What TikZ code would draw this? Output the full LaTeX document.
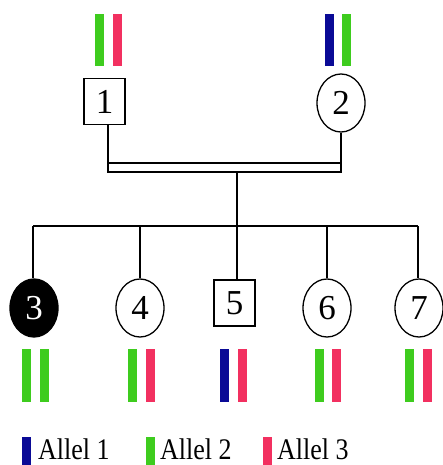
\documentclass[tikz,border=0pt]{standalone}
\usepackage{fontspec}
\setmainfont{Liberation Serif}
\usetikzlibrary{shapes.geometric}
\definecolor{alA}{RGB}{10,10,150}
\definecolor{alB}{RGB}{62,204,30}
\definecolor{alC}{RGB}{242,48,96}
\begin{document}
\begin{tikzpicture}[x=1pt,y=-1pt,
  male/.style={draw,line width=1.3pt,rectangle,minimum width=41pt,minimum height=46pt,inner sep=0pt,font=\fontsize{35}{35}\selectfont},
  female/.style={draw,line width=1.3pt,ellipse,minimum width=48pt,minimum height=58pt,inner sep=0pt,font=\fontsize{35}{35}\selectfont},
  link/.style={line width=1.2pt},
  legend/.style={anchor=base west,inner sep=0pt,font=\fontsize{26}{26}\selectfont,yscale=1.15}]
\useasboundingbox (0,0) rectangle (443,465);
% parents
\node[male] (n1) at (104.5,101.5) {1};
\node[female] (n2) at (341,103) {2};
% children
\node[female,fill=black,text=white] (n3) at (34,308) {3};
\node[female] (n4) at (140,308) {4};
\node[male] (n5) at (234.5,303) {5};
\node[female] (n6) at (327,308) {6};
\node[female] (n7) at (419,308) {7};
% marriage line
\coordinate (ml) at (108,172);
\coordinate (mr) at (341,172);
\coordinate (ul) at (108,163);
\coordinate (ur) at (341,163);
\draw[link] (n1.south -| ml) -- (ml) -- (mr) -- (n2.south);
\draw[link] (ul) -- (ur);
% descent line
\coordinate (md) at (237,172);
\coordinate (sl) at (33,226);
\coordinate (sr) at (418,226);
\draw[link] (md) -- (n5.north -| md);
\draw[link] (sl) -- (sr);
\draw[link] (sl) -- (n3.north -| sl);
\draw[link] (n4.north |- sl) -- (n4.north);
\draw[link] (n6.north |- sl) -- (n6.north);
\draw[link] (sr) -- (n7.north -| sr);
% genotype bars
\fill[alB] (95,14) rectangle (104,66);
\fill[alC] (113,14) rectangle (122,66);
\fill[alA] (325,14) rectangle (334,66);
\fill[alB] (342,14) rectangle (351,66);
\fill[alB] (22,349) rectangle (31,402);
\fill[alB] (40,349) rectangle (49,402);
\fill[alB] (128,349) rectangle (137,402);
\fill[alC] (146,349) rectangle (155,402);
\fill[alA] (220,349) rectangle (229,402);
\fill[alC] (238,349) rectangle (247,402);
\fill[alB] (315,349) rectangle (324,402);
\fill[alC] (332,349) rectangle (341,402);
\fill[alB] (405,349) rectangle (414,402);
\fill[alC] (423,349) rectangle (432,402);
% legend
\fill[alA] (22,437) rectangle (31,465);
\node[legend] (l1) at (38,459) {Allel 1};
\fill[alB] (146,437) rectangle (155,465);
\node[legend] (l2) at (160,459) {Allel 2};
\fill[alC] (263,437) rectangle (272,465);
\node[legend] (l3) at (277,459) {Allel 3};
\end{tikzpicture}
\end{document}
